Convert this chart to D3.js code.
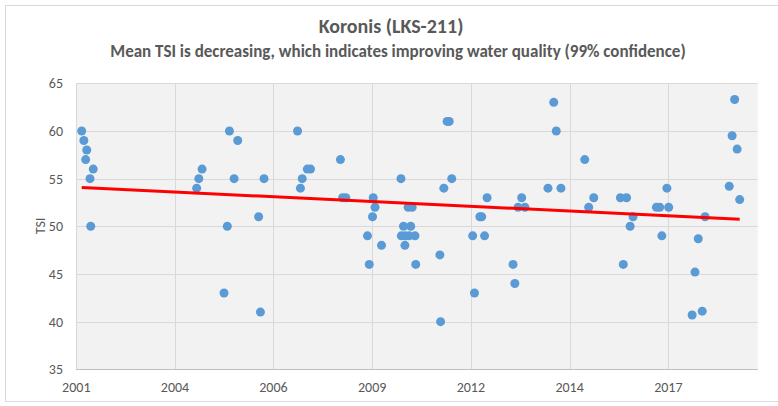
<!DOCTYPE html>
<html>
  <head>
    <meta charset="utf-8" />
    <script src="https://cdn.jsdelivr.net/npm/d3@7"></script>
    <style>
      body {
        margin: 0;
        background: #ffffff;
      }
      svg text {
        font-family: Calibri, Carlito, "Open Sans", sans-serif;
        fill: #595959;
      }
    </style>
  </head>
  <body>
    <svg id="chart" width="778" height="406"></svg>
    <script>
      // sample dates as decimal years, TSI value for each
      const sampleYears = [
        2001.43, 2001.49, 2001.57, 2001.54, 2001.75, 2001.66, 2001.68,
        2004.62, 2004.68, 2004.77,
        2005.53, 2005.76, 2005.66, 2005.47, 2005.38,
        2006.49, 2006.34, 2006.39,
        2007.42, 2007.55, 2007.5, 2007.69, 2007.78,
        2008.61, 2008.67, 2008.76,
        2009.52, 2009.57, 2009.5, 2009.36, 2009.75, 2009.41,
        2010.29, 2010.49, 2010.6, 2010.36, 2010.56, 2010.3, 2010.41, 2010.52, 2010.68, 2010.4, 2010.7,
        2011.57, 2011.63, 2011.7, 2011.48, 2011.37, 2011.39,
        2012.28, 2012.33, 2012.48, 2012.53, 2012.61, 2012.68,
        2013.4, 2013.45, 2013.54, 2013.73, 2013.64,
        2014.37, 2014.53, 2014.6, 2014.73,
        2015.39, 2015.5, 2015.64,
        2016.38, 2016.55, 2016.46, 2016.73, 2016.65,
        2017.38, 2017.47, 2017.72, 2017.67, 2017.53,
        2018.73, 2018.54, 2018.45, 2018.37, 2018.65,
        2019.4, 2019.48, 2019.55, 2019.62, 2019.69
      ];
      const tsiValues = [
        60, 59, 58, 57, 56, 55, 50,
        54, 55, 56,
        60, 59, 55, 50, 43,
        55, 51, 41,
        60, 55, 54, 56, 56,
        57, 53, 53,
        53, 52, 51, 49, 48, 46,
        55, 52, 52, 50, 50, 49, 49, 49, 49, 48, 46,
        61, 61, 55, 54, 47, 40,
        49, 43, 51, 51, 49, 53,
        46, 44, 52, 52, 53,
        54, 63, 60, 54,
        57, 52, 53,
        53, 53, 46, 51, 50,
        52, 52, 52, 54, 49,
        51, 48.7, 45.2, 40.7, 41.1,
        54.2, 59.5, 63.3, 58.1, 52.8
      ];

      // date axis: a label every 1000 days
      const xTicks = [2001.28, 2004.02, 2006.75, 2009.49, 2012.23, 2014.97, 2017.71];
      const xTickLabels = ["2001", "2004", "2006", "2009", "2012", "2014", "2017"];
      const xDomain = [2001.28, 2020.19];
      const yTicks = [35, 40, 45, 50, 55, 60, 65];

      const svg = d3.select("#chart");
      const plotL = 76.3, plotR = 757.7, plotT = 83.3, plotB = 369.3;

      const x = d3.scaleLinear().domain(xDomain).range([plotL, plotR]);
      const y = d3.scaleLinear().domain([35, 65]).range([plotB, plotT]);

      // outer chart frame
      svg.append("rect")
        .attr("x", 5.5).attr("y", 5.5)
        .attr("width", 790).attr("height", 396)
        .attr("fill", "none").attr("stroke", "#d9d9d9");

      // plot area
      svg.append("rect")
        .attr("x", plotL).attr("y", plotT)
        .attr("width", plotR - plotL).attr("height", plotB - plotT)
        .attr("fill", "#f2f2f2");

      const grid = svg.append("g").attr("stroke", "#d9d9d9").attr("stroke-width", 1);
      grid.selectAll(".hg").data(yTicks).join("line")
        .attr("x1", plotL).attr("x2", plotR)
        .attr("y1", d => Math.round(y(d)) + 0.5).attr("y2", d => Math.round(y(d)) + 0.5);
      grid.selectAll(".vg").data(xTicks).join("line")
        .attr("x1", d => Math.round(x(d)) + 0.5).attr("x2", d => Math.round(x(d)) + 0.5)
        .attr("y1", plotT).attr("y2", plotB);

      // bottom axis line
      svg.append("line")
        .attr("x1", plotL).attr("x2", plotR)
        .attr("y1", Math.round(plotB) + 0.5).attr("y2", Math.round(plotB) + 0.5)
        .attr("stroke", "#bfbfbf");

      // y tick labels
      svg.append("g").selectAll("text").data(yTicks).join("text")
        .attr("x", 63).attr("y", d => y(d))
        .attr("dy", "0.35em")
        .attr("text-anchor", "end")
        .attr("font-size", 14)
        .text(d => d);

      // x tick labels
      svg.append("g").selectAll("text").data(xTicks).join("text")
        .attr("x", d => x(d)).attr("y", 387)
        .attr("dy", "0.35em")
        .attr("text-anchor", "middle")
        .attr("font-size", 14)
        .text((d, i) => xTickLabels[i]);

      // axis title
      svg.append("text")
        .attr("transform", "translate(40,226) rotate(-90)")
        .attr("text-anchor", "middle")
        .attr("dy", "0.35em")
        .attr("font-size", 14)
        .text("TSI");

      // points
      const points = sampleYears.map((t, i) => ({ t, v: tsiValues[i] }));
      svg.append("g").selectAll("circle").data(points).join("circle")
        .attr("cx", d => x(d.t)).attr("cy", d => y(d.v))
        .attr("r", 4.5)
        .attr("fill", "#5b9bd5");

      // linear trend (least squares)
      const mt = d3.mean(sampleYears), mv = d3.mean(tsiValues);
      let sxy = 0, sxx = 0;
      points.forEach(p => { sxy += (p.t - mt) * (p.v - mv); sxx += (p.t - mt) ** 2; });
      const slope = sxy / sxx;
      const [t0, t1] = d3.extent(sampleYears);
      const trend = [t0, t1].map(t => ({ t, v: mv + slope * (t - mt) }));
      svg.append("path")
        .datum(trend)
        .attr("d", d3.line().x(d => x(d.t)).y(d => y(d.v)))
        .attr("stroke", "#ff0000").attr("stroke-width", 3)
        .attr("fill", "none");

      // titles
      svg.append("text")
        .attr("x", 391).attr("y", 26)
        .attr("dy", "0.35em")
        .attr("text-anchor", "middle")
        .attr("font-size", 20).attr("font-weight", "bold")
        .text("Koronis (LKS-211)");
      svg.append("text")
        .attr("x", 398).attr("y", 51)
        .attr("dy", "0.35em")
        .attr("text-anchor", "middle")
        .attr("font-size", 17).attr("font-weight", "bold")
        .text("Mean TSI is decreasing, which indicates improving water quality (99% confidence)");
    </script>
  </body>
</html>
